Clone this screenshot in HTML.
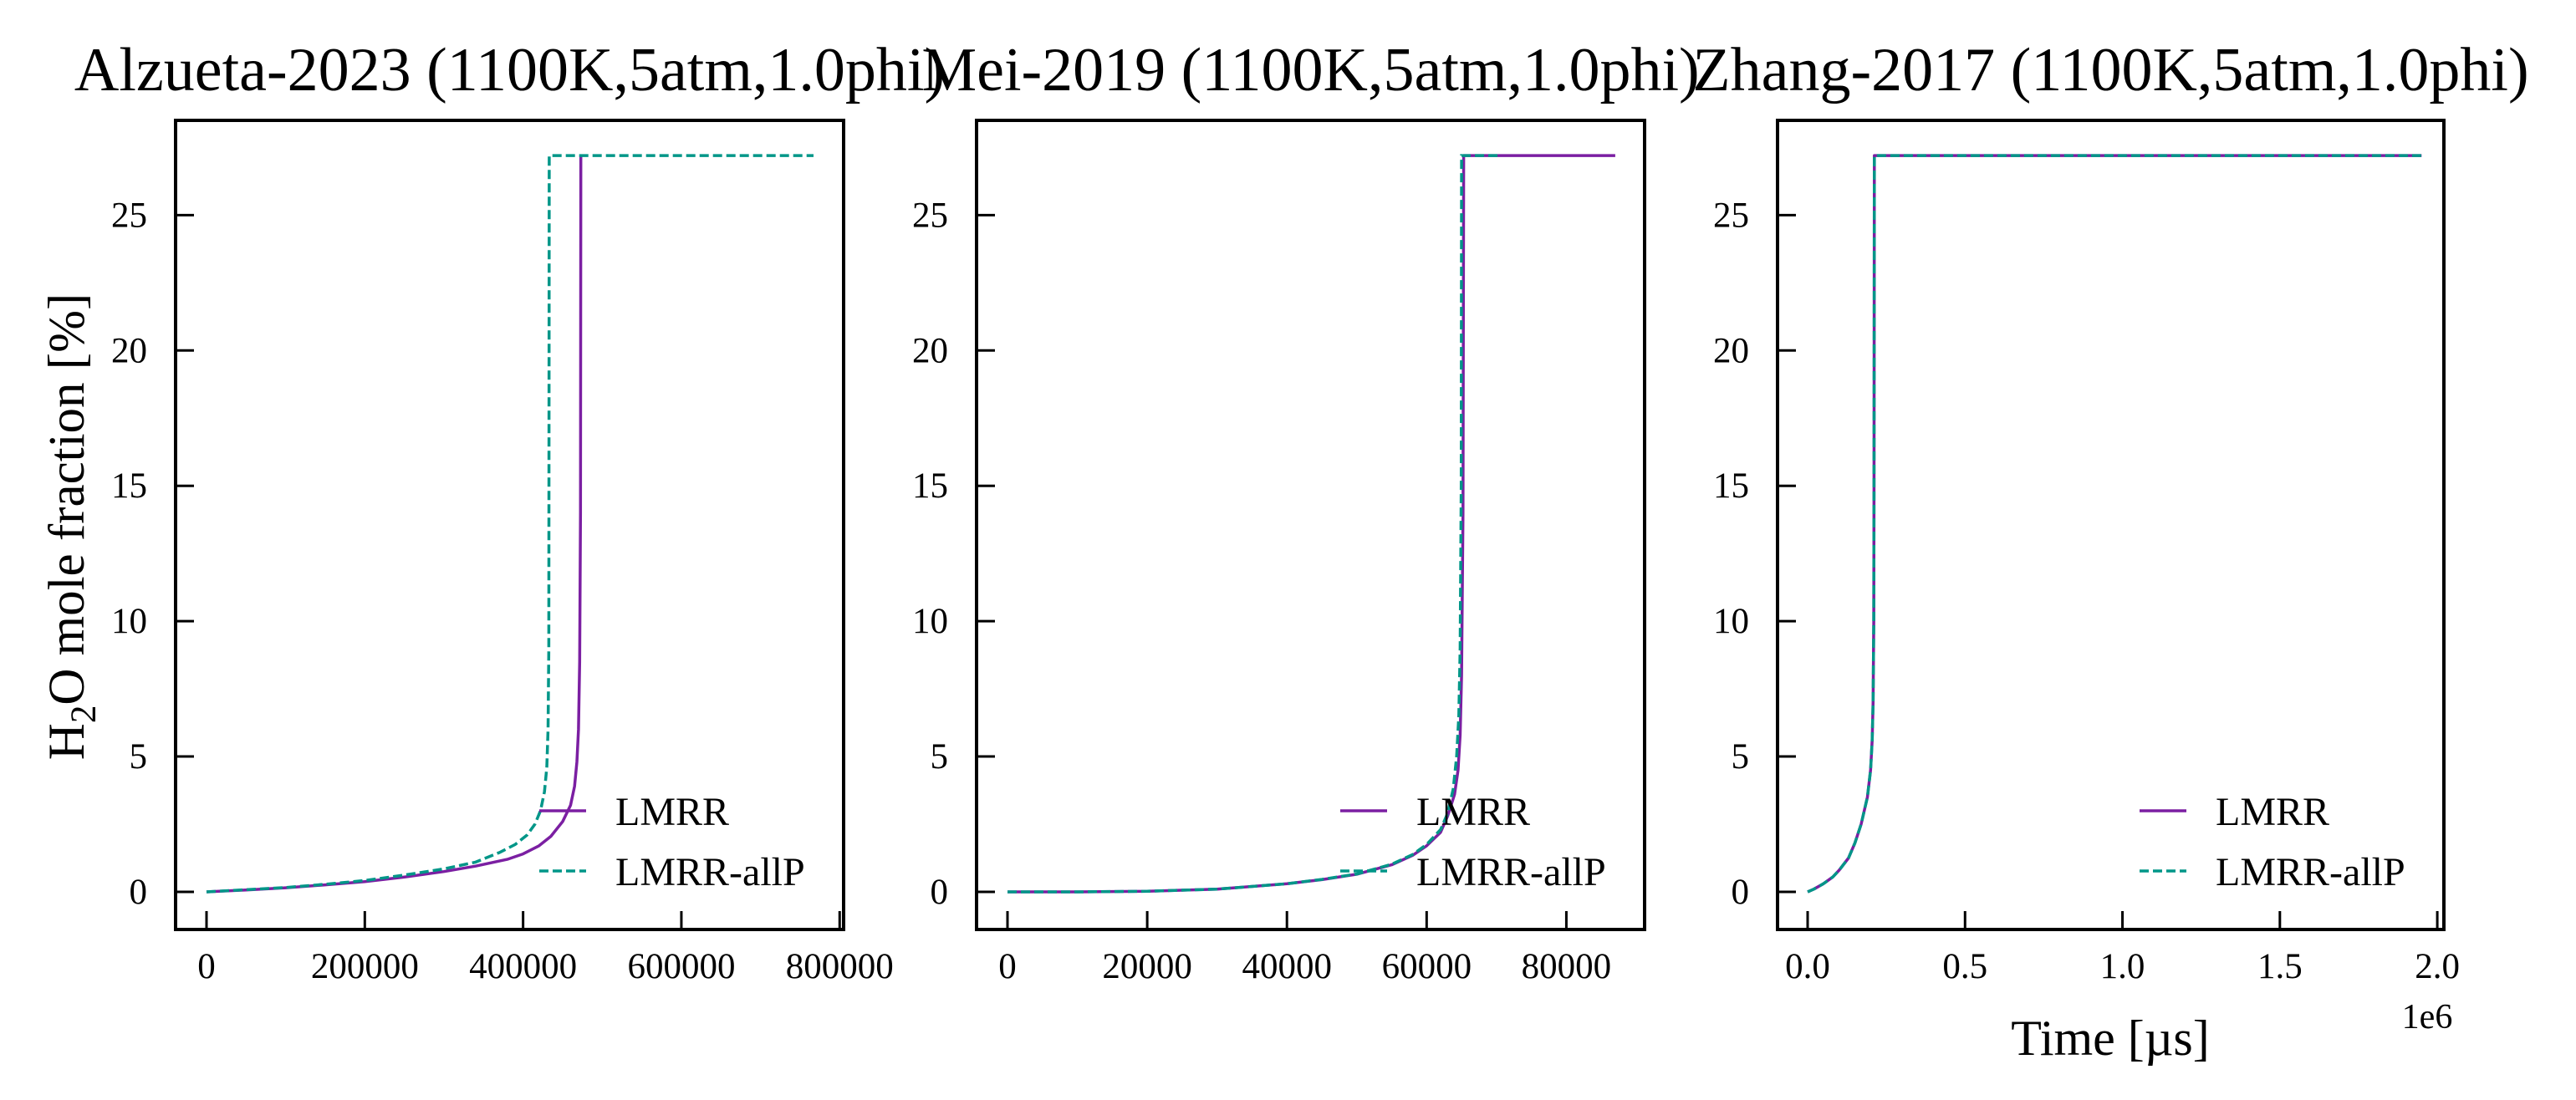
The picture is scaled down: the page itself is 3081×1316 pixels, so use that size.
<!DOCTYPE html>
<html><head><meta charset="utf-8"><style>
html,body{margin:0;padding:0;background:#fff;}
svg{display:block;font-family:"Liberation Serif","DejaVu Serif",serif;}
</style></head><body>
<svg id="chart" width="3081" height="1316" viewBox="0 0 3081 1316" xmlns="http://www.w3.org/2000/svg">
<text transform="translate(100,630) rotate(-90)" text-anchor="middle" font-size="61">H<tspan font-size="43" dy="14">2</tspan><tspan dy="-14">O mole fraction [%]</tspan></text>
<text x="2524" y="1262" text-anchor="middle" font-size="60">Time [µs]</text>
<text x="2903" y="1230" text-anchor="middle" font-size="42">1e6</text>
</svg>
<script>
// Panel 1: Alzueta-2023
const alzTimeLMRR = [0,50000,100000,150000,200000,250000,300000,340000,380000,400000,420000,435000,450000,460000,465000,468000,470000,471500,472500,473000];
const alzValLMRR  = [0,0.07,0.15,0.26,0.38,0.55,0.75,0.95,1.2,1.4,1.7,2.05,2.6,3.2,3.9,4.8,6.0,8.5,14,27.2];
const alzTimeAllP = [0,50000,100000,150000,200000,250000,300000,340000,370000,390000,405000,415000,422000,427000,430000,431500,432500,433000,767000];
const alzValAllP  = [0,0.08,0.16,0.28,0.42,0.62,0.85,1.1,1.45,1.75,2.1,2.5,3.0,3.7,4.6,6.0,9,27.2,27.2];
const alzXTicks = [0,200000,400000,600000,800000];
const alzXTickLabels = ["0","200000","400000","600000","800000"];
// Panel 2: Mei-2019
const meiTimeLMRR = [0,10000,20000,30000,40000,45000,50000,55000,58000,60000,62000,63000,64000,64500,64800,65000,65200,65300,87000];
const meiValLMRR  = [0,0.0,0.02,0.1,0.3,0.45,0.65,1.0,1.35,1.7,2.2,2.8,3.6,4.5,5.8,8,14,27.2,27.2];
const meiTimeAllP = [0,10000,20000,30000,40000,45000,50000,55000,58000,60000,62000,63000,63800,64300,64600,64800,64950,65000,70600];
const meiValAllP  = [0,0.0,0.02,0.1,0.3,0.46,0.66,1.02,1.38,1.75,2.3,2.9,3.8,5.0,6.5,9,15,27.2,27.2];
const meiXTicks = [0,20000,40000,60000,80000];
const meiXTickLabels = ["0","20000","40000","60000","80000"];
// Panel 3: Zhang-2017 (x in units of 1e6)
const zhaTimeLMRR = [0,0.02,0.05,0.08,0.1,0.13,0.15,0.17,0.19,0.2,0.205,0.208,0.21,0.211,0.212,1.95];
const zhaValLMRR  = [0,0.1,0.3,0.55,0.8,1.25,1.8,2.5,3.5,4.5,5.6,7,10,15,27.2,27.2];
const zhaTimeAllP = [0,0.02,0.05,0.08,0.1,0.13,0.15,0.17,0.19,0.2,0.205,0.208,0.21,0.211,0.212,1.95];
const zhaValAllP  = [0,0.1,0.3,0.55,0.8,1.25,1.8,2.5,3.5,4.5,5.6,7,10,15,27.2,27.2];
const zhaXTicks = [0,0.5,1.0,1.5,2.0];
const zhaXTickLabels = ["0.0","0.5","1.0","1.5","2.0"];
const yTicks = [0,5,10,15,20,25];
const yTickLabels = ["0","5","10","15","20","25"];
const titles = ["Alzueta-2023 (1100K,5atm,1.0phi)","Mei-2019 (1100K,5atm,1.0phi)","Zhang-2017 (1100K,5atm,1.0phi)"];

const NS="http://www.w3.org/2000/svg";
const svg=document.getElementById('chart');
function mk(tag,attrs,parent){const e=document.createElementNS(NS,tag);for(const k in attrs)e.setAttribute(k,attrs[k]);(parent||svg).appendChild(e);return e;}
const plotTop=144,plotBottom=1112,yMin=-1.39,yMax=28.5;
function yScale(v){return plotBottom-(v-yMin)/(yMax-yMin)*(plotBottom-plotTop);}

const panels=[
 {l:210,r:1009,xMin:-39100,xMax:805000,ticks:alzXTicks,labels:alzXTickLabels,t1:alzTimeLMRR,v1:alzValLMRR,t2:alzTimeAllP,v2:alzValAllP},
 {l:1168,r:1967,xMin:-4430,xMax:91200,ticks:meiXTicks,labels:meiXTickLabels,t1:meiTimeLMRR,v1:meiValLMRR,t2:meiTimeAllP,v2:meiValAllP},
 {l:2126,r:2923,xMin:-0.0956,xMax:2.021,ticks:zhaXTicks,labels:zhaXTickLabels,t1:zhaTimeLMRR,v1:zhaValLMRR,t2:zhaTimeAllP,v2:zhaValAllP}
];
panels.forEach((p,i)=>{
 const g=mk('g',{});
 
 
 const xs=v=>p.l+(v-p.xMin)/(p.xMax-p.xMin)*(p.r-p.l);
 const cp=mk('clipPath',{id:'clip'+i},g);
 mk('rect',{x:p.l,y:plotTop,width:p.r-p.l,height:plotBottom-plotTop},cp);
 const mkPath=(ts,vs)=>ts.map((tv,k)=>(k?'L':'M')+xs(tv).toFixed(1)+','+yScale(vs[k]).toFixed(1)).join('');
 const l1=mk('path',{d:mkPath(p.t1,p.v1),fill:'none',stroke:'#7b1fa2','stroke-width':3.5,'stroke-linejoin':'round','clip-path':'url(#clip'+i+')'},g);
 
 
 const l2=mk('path',{d:mkPath(p.t2,p.v2),fill:'none',stroke:'#009688','stroke-width':3.5,'stroke-dasharray':'11,5','clip-path':'url(#clip'+i+')'},g);
 
 
 yTicks.forEach((v,k)=>{const y=yScale(v);
  const tk=mk('line',{x1:p.l,x2:p.l+22,y1:y,y2:y,stroke:'#000','stroke-width':3},g);
  
  
  const tl=mk('text',{x:p.l-34,y:y+14,'text-anchor':'end','font-size':43},g);tl.textContent=yTickLabels[k];
  
  
 });
 p.ticks.forEach((v,k)=>{const x=xs(v);
  const tk=mk('line',{x1:x,x2:x,y1:plotBottom,y2:plotBottom-22,stroke:'#000','stroke-width':3},g);
  
  
  const tl=mk('text',{x:x,y:plotBottom+58,'text-anchor':'middle','font-size':43},g);tl.textContent=p.labels[k];
  
  
 });
 const fr=mk('rect',{x:p.l,y:plotTop,width:p.r-p.l,height:plotBottom-plotTop,fill:'none',stroke:'#000','stroke-width':4},g);
 
 
 const lg=mk('g',{},g);
 
 
 const e1=mk('line',{x1:p.r-364,x2:p.r-308,y1:970,y2:970,stroke:'#7b1fa2','stroke-width':3.5},lg);
 
 
 const tx1=mk('text',{x:p.r-273,y:987,'font-size':48},lg);tx1.textContent='LMRR';
 
 
 const e2=mk('line',{x1:p.r-364,x2:p.r-308,y1:1042,y2:1042,stroke:'#009688','stroke-width':3.5,'stroke-dasharray':'11,5'},lg);
 
 
 const tx2=mk('text',{x:p.r-273,y:1059,'font-size':48},lg);tx2.textContent='LMRR-allP';
 
 
});
panels.forEach((p,i)=>{
 const t=mk('text',{x:(p.l+p.r)/2,y:108,'text-anchor':'middle','font-size':74});
 t.textContent=titles[i];
 
 
});
</script>
</body></html>
